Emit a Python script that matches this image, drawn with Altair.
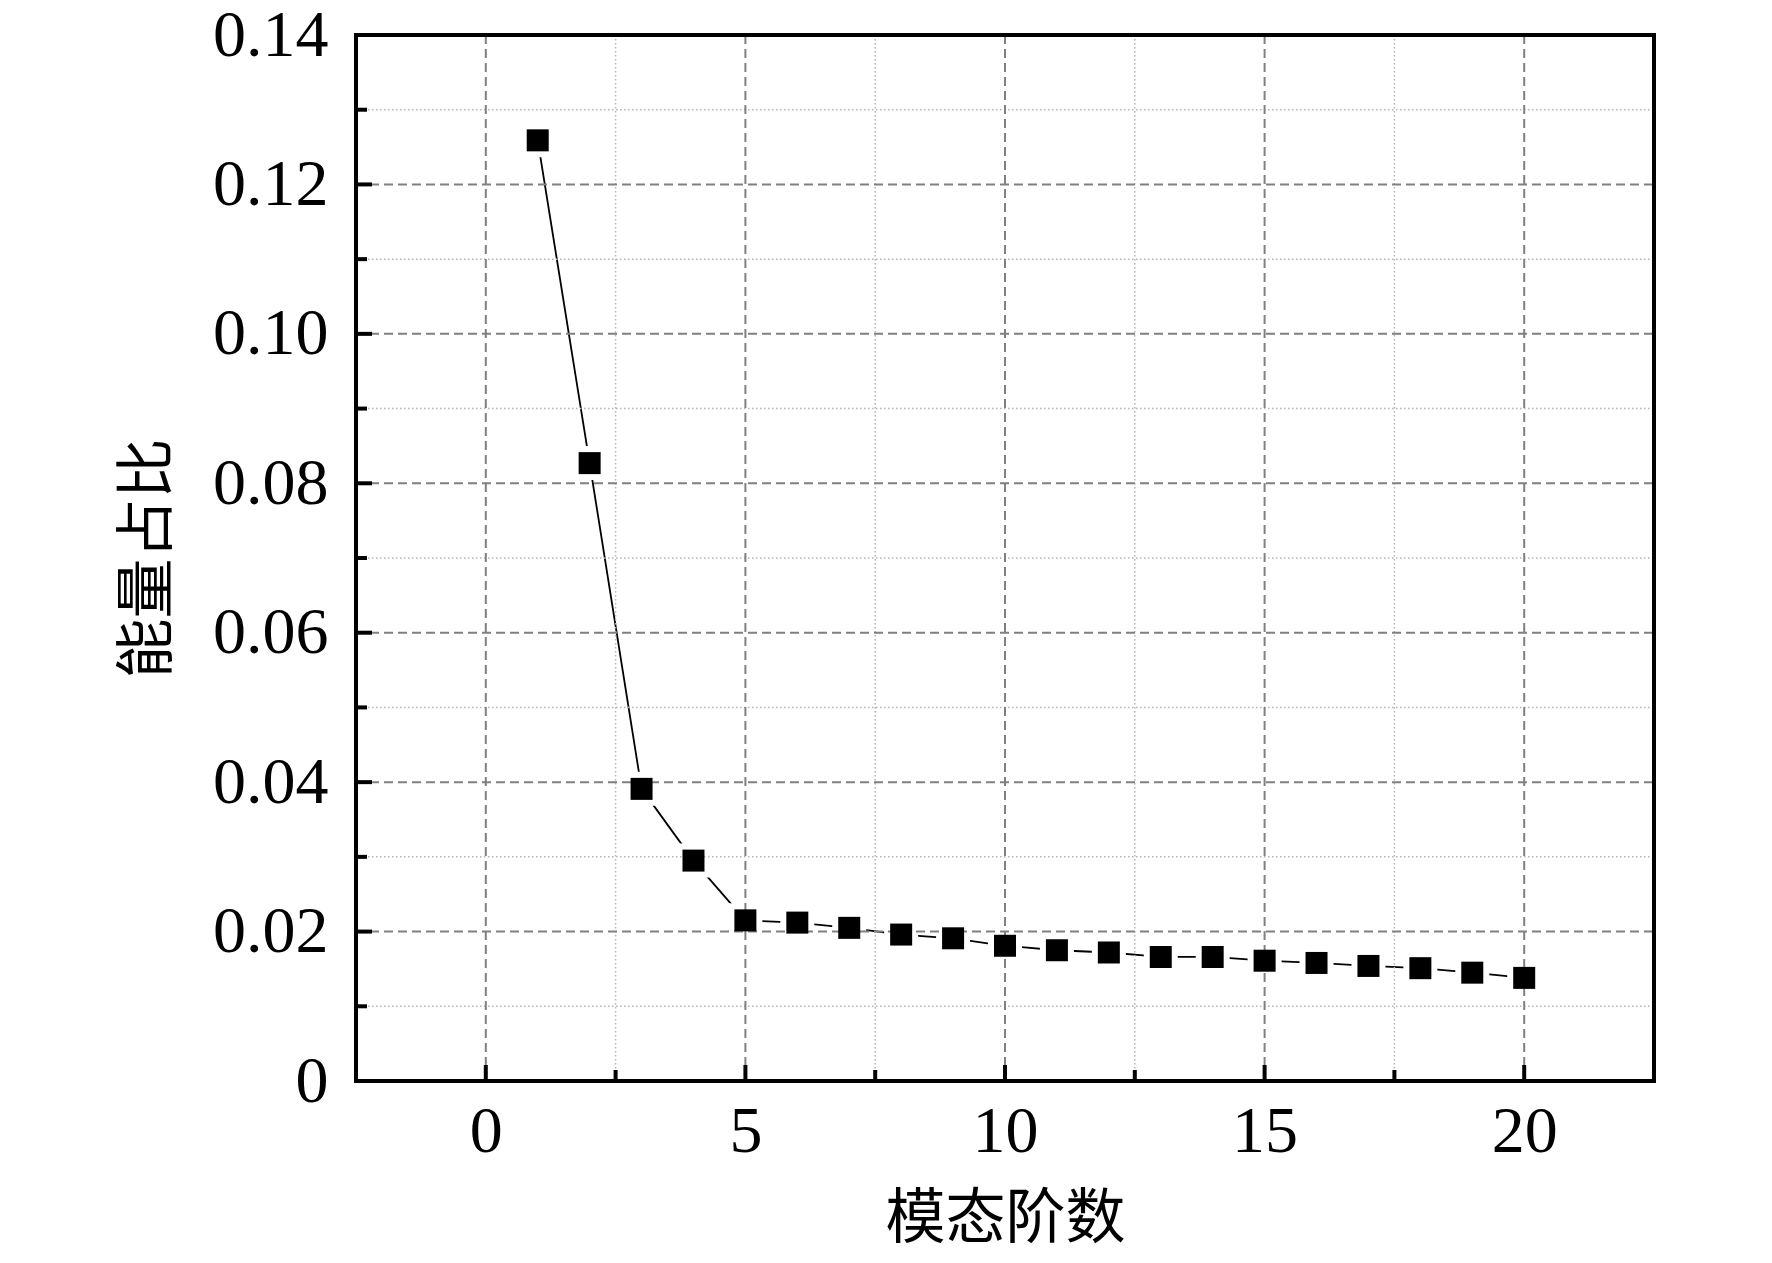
import altair as alt
import pandas as pd

# ---- data ----
mode_order = list(range(1, 21))
energy_ratio = [0.1259, 0.0827, 0.0391, 0.0295, 0.0215, 0.0212, 0.0205, 0.0196,
                0.0191, 0.0181, 0.0175, 0.0172, 0.0166, 0.0166, 0.0161, 0.0158,
                0.0154, 0.0151, 0.0145, 0.0138]

x_major = [0, 5, 10, 15, 20]
x_minor = [2.5, 7.5, 12.5, 17.5]
y_major = [0.02, 0.04, 0.06, 0.08, 0.10, 0.12]
y_minor = [0.01, 0.03, 0.05, 0.07, 0.09, 0.11, 0.13]
y_labels = [0, 0.02, 0.04, 0.06, 0.08, 0.10, 0.12, 0.14]

x_title = "模态阶数"
y_title = "能量占比"

W, H = 1298, 1046

df = pd.DataFrame({"mode": mode_order, "ratio": energy_ratio})
dxM = pd.DataFrame({"mode": x_major})
dxm = pd.DataFrame({"mode": x_minor})
dyM = pd.DataFrame({"ratio": y_major})
dym = pd.DataFrame({"ratio": y_minor})
one = pd.DataFrame({"a": [0]})

xs = alt.Scale(domain=[-2.5, 22.5], nice=False, zero=False)
ys = alt.Scale(domain=[0, 0.14], nice=False, zero=False)

serif = "Liberation Serif"
cjk = "Noto Sans CJK SC"

x_axis = alt.Axis(values=x_major, title=x_title, grid=False, ticks=False,
                  tickSize=0, domain=False, labelFont=serif, labelFontSize=66,
                  labelColor="black", labelPadding=18, labelBaseline="top",
                  titleFont=cjk, titleFontSize=60, titleFontWeight="normal",
                  titleColor="black", titleY=138, titleBaseline="middle")
y_axis = alt.Axis(values=y_labels, title=y_title, grid=False, ticks=False,
                  tickSize=0, domain=False, labelFont=serif, labelFontSize=66,
                  labelColor="black", labelPadding=28, labelBaseline="middle",
                  labelExpr="datum.value == 0 ? '0' : format(datum.value, '.2f')",
                  titleFont=cjk, titleFontSize=60, titleFontWeight="normal",
                  titleColor="black", titleX=-208, titleY=H / 2,
                  titleBaseline="middle", titleAngle=270)

X = alt.X("mode:Q", scale=xs, axis=x_axis)
Y = alt.Y("ratio:Q", scale=ys, axis=y_axis)

major_grid = dict(color="#808080", strokeWidth=2, strokeDash=[9, 5])
minor_grid = dict(color="#b4b4b4", strokeWidth=1.5, strokeDash=[1.5, 2.5])

line = alt.Chart(df).mark_line(color="black", strokeWidth=1.8).encode(x=X, y=Y)

halo = alt.Chart(df).mark_point(shape="square", filled=True, color="white",
                                size=1156, opacity=1).encode(x=X, y=Y)

vgrid_major = alt.Chart(dxM).mark_rule(**major_grid).encode(
    x=X, y=alt.value(0), y2=alt.value(H))
vgrid_minor = alt.Chart(dxm).mark_rule(**minor_grid).encode(
    x=X, y=alt.value(0), y2=alt.value(H))
hgrid_major = alt.Chart(dyM).mark_rule(**major_grid).encode(
    y=Y, x=alt.value(0), x2=alt.value(W))
hgrid_minor = alt.Chart(dym).mark_rule(**minor_grid).encode(
    y=Y, x=alt.value(0), x2=alt.value(W))

points = alt.Chart(df).mark_point(shape="square", filled=True, color="black",
                                  size=484, opacity=1).encode(x=X, y=Y)

xt_major = alt.Chart(dxM).mark_rule(color="black", strokeWidth=4).encode(
    x=X, y=alt.value(H), y2=alt.value(H - 16))
xt_minor = alt.Chart(dxm).mark_rule(color="black", strokeWidth=4).encode(
    x=X, y=alt.value(H), y2=alt.value(H - 11))
yt_major = alt.Chart(dyM).mark_rule(color="black", strokeWidth=4).encode(
    y=Y, x=alt.value(0), x2=alt.value(16))
yt_minor = alt.Chart(dym).mark_rule(color="black", strokeWidth=4).encode(
    y=Y, x=alt.value(0), x2=alt.value(11))

frame = alt.Chart(one).mark_rect(fill="white", fillOpacity=0, stroke="black",
                                 strokeWidth=4).encode(
    x=alt.value(0), x2=alt.value(W), y=alt.value(0), y2=alt.value(H))

chart = alt.layer(
    line, halo, vgrid_minor, hgrid_minor, vgrid_major, hgrid_major,
    points, xt_major, xt_minor, yt_major, yt_minor, frame
).properties(
    width=W, height=H,
    autosize=alt.AutoSizeParams(type="none"),
    padding={"left": 348, "top": 27, "right": 100, "bottom": 172},
    background="white",
).configure_view(stroke=None)

chart.save("out.html", embed_options={"renderer": "svg", "actions": False})
